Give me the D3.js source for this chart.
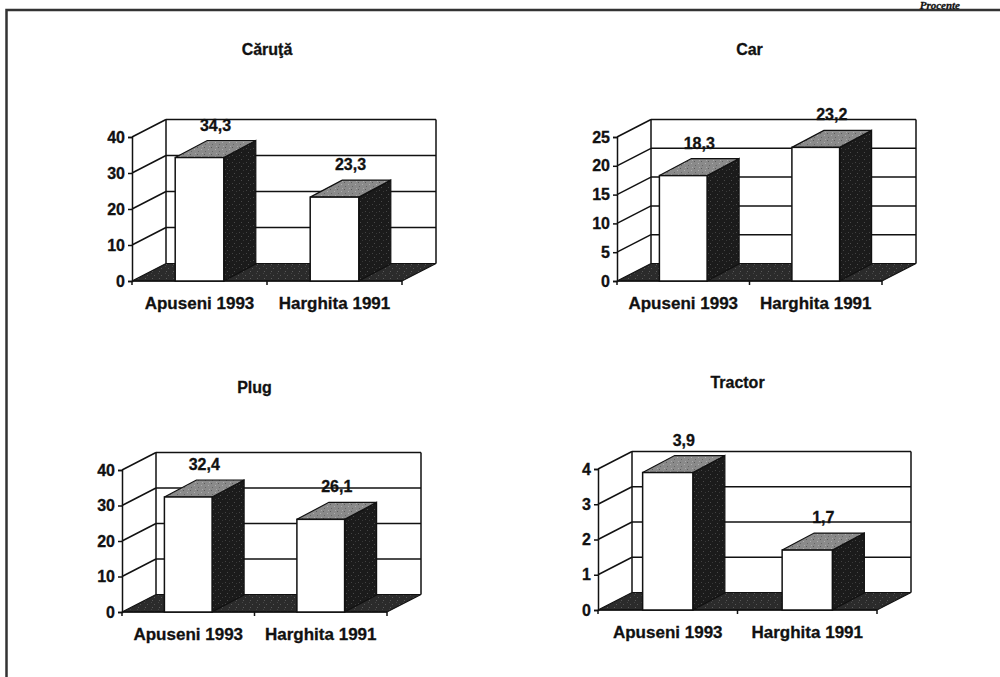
<!DOCTYPE html>
<html>
<head>
<meta charset="utf-8">
<style>
  body { margin: 0; background: #fff; }
  svg text { font-family: "Liberation Sans", Arial, sans-serif; font-weight: bold; fill: #111; stroke: #111; stroke-width: 0.3px; }
</style>
</head>
<body>
<div id="chart"></div>
<script src="https://cdn.jsdelivr.net/npm/d3@7"></script>
<script>
// data
const categories = ["Apuseni 1993", "Harghita 1991"];
const titles = ["Căruţă", "Car", "Plug", "Tractor"];
const caruta = [34.3, 23.3];
const car = [18.3, 23.2];
const plug = [32.4, 26.1];
const tractor = [3.9, 1.7];
const ticksCaruta = [0, 10, 20, 30, 40];
const ticksCar = [0, 5, 10, 15, 20, 25];
const ticksPlug = [0, 10, 20, 30, 40];
const ticksTractor = [0, 1, 2, 3, 4];

// layout of the four panels
const panels = [
  { title: titles[0], values: caruta, ticks: ticksCaruta, x0: 132, x1: 402, y0: 281, yTop: 137, titleY: 55 },
  { title: titles[1], values: car, ticks: ticksCar, x0: 617, x1: 882, y0: 281, yTop: 137, titleY: 55 },
  { title: titles[2], values: plug, ticks: ticksPlug, x0: 122, x1: 387, y0: 612, yTop: 470, titleY: 393 },
  { title: titles[3], values: tractor, ticks: ticksTractor, x0: 598, x1: 877, y0: 610, yTop: 469, titleY: 388 }
];

const W = 1000, H = 677;
const dx = 34, dy = 17.5;     // depth of the floor / walls
const bdx = 32, bdy = 17;     // depth of the bars

const svg = d3.select("#chart").append("svg")
  .attr("width", W).attr("height", H);

// stipple textures like the printed original
const defs = svg.append("defs");
function stipple(id, base, dots) {
  const p = defs.append("pattern").attr("id", id)
    .attr("width", 7).attr("height", 7).attr("patternUnits", "userSpaceOnUse");
  p.append("rect").attr("width", 7).attr("height", 7).attr("fill", base);
  dots.forEach(([x, y, c]) => p.append("rect").attr("x", x).attr("y", y)
    .attr("width", 1).attr("height", 1).attr("fill", c));
}
stipple("dark", "#1b1b1b", [[1, 1, "#444"], [5, 2, "#383838"], [3, 5, "#4a4a4a"]]);
stipple("floor", "#2b2b2b", [[0, 2, "#555"], [4, 0, "#444"], [5, 5, "#5a5a5a"]]);
stipple("top", "#8a8a8a", [[1, 0, "#5c5c5c"], [5, 2, "#b0b0b0"], [2, 4, "#666"], [6, 6, "#aaa"]]);

// frame
svg.append("path")
  .attr("d", `M6.5,${H} V10 H${W}`)
  .attr("fill", "none").attr("stroke", "#333").attr("stroke-width", 2.5);

svg.append("text")
  .attr("x", 960).attr("y", 8.5)
  .attr("text-anchor", "end")
  .style("font-family", "'Liberation Serif', serif")
  .style("font-style", "italic")
  .style("font-size", "11px")
  .text("Procente");

panels.forEach(p => {
  const g = svg.append("g");
  const maxV = p.ticks[p.ticks.length - 1];

  const x = d3.scaleBand().domain(categories).range([p.x0, p.x1])
    .paddingInner(0.64).paddingOuter(0.32);
  const y = d3.scaleLinear().domain([0, maxV]).range([p.y0, p.yTop]);

  const line = (x1, y1, x2, y2) => g.append("line")
    .attr("x1", x1).attr("y1", y1).attr("x2", x2).attr("y2", y2)
    .attr("stroke", "#111").attr("stroke-width", 1.5);

  // back wall and side wall grid
  p.ticks.forEach(t => {
    if (t > 0) {
      line(p.x0, y(t), p.x0 + dx, y(t) - dy);
      line(p.x0 + dx, y(t) - dy, p.x1 + dx, y(t) - dy);
    }
  });
  line(p.x0 + dx, y(0) - dy, p.x0 + dx, y(maxV) - dy);
  line(p.x1 + dx, y(0) - dy, p.x1 + dx, y(maxV) - dy);

  // floor
  g.append("path")
    .attr("d", `M${p.x0},${p.y0} L${p.x1},${p.y0} L${p.x1 + dx},${p.y0 - dy} L${p.x0 + dx},${p.y0 - dy} Z`)
    .attr("fill", "url(#floor)").attr("stroke", "#111").attr("stroke-width", 1.2);

  // y axis
  const yAxis = d3.axisLeft(y).tickValues(p.ticks).tickFormat(d3.format("d"))
    .tickSize(4).tickPadding(3);
  const ya = g.append("g").attr("transform", `translate(${p.x0},0)`).call(yAxis);
  ya.select(".domain").attr("stroke", "#111").attr("stroke-width", 1.5);
  ya.selectAll(".tick line").attr("stroke", "#111").attr("stroke-width", 1.5);
  ya.selectAll(".tick text").style("font-size", "16px")
    .style("font-family", "'Liberation Sans', Arial, sans-serif").style("font-weight", "bold");

  // x axis
  const xa = g.append("g").attr("transform", `translate(0,${p.y0})`);
  xa.append("line").attr("x1", p.x0).attr("x2", p.x1)
    .attr("stroke", "#111").attr("stroke-width", 1.5);
  const xticks = [p.x0, (p.x0 + p.x1) / 2, p.x1];
  xticks.forEach(t => xa.append("line").attr("x1", t).attr("x2", t).attr("y1", 0).attr("y2", 4)
    .attr("stroke", "#111").attr("stroke-width", 1.5));
  xa.selectAll("text.cat").data(categories).join("text")
    .attr("class", "cat")
    .attr("x", d => x(d) + x.bandwidth() / 2)
    .attr("y", 28)
    .attr("text-anchor", "middle")
    .style("font-size", "17px")
    .text(d => d);

  // bars
  const bw = x.bandwidth();
  p.values.forEach((v, i) => {
    const bx = x(categories[i]);
    const top = y(v);
    // side
    g.append("path")
      .attr("d", `M${bx + bw},${p.y0} L${bx + bw + bdx},${p.y0 - bdy} L${bx + bw + bdx},${top - bdy} L${bx + bw},${top} Z`)
      .attr("fill", "url(#dark)").attr("stroke", "#111").attr("stroke-width", 1.2);
    // top
    g.append("path")
      .attr("d", `M${bx},${top} L${bx + bw},${top} L${bx + bw + bdx},${top - bdy} L${bx + bdx},${top - bdy} Z`)
      .attr("fill", "url(#top)").attr("stroke", "#111").attr("stroke-width", 1.2);
    // front
    g.append("rect")
      .attr("x", bx).attr("y", top).attr("width", bw).attr("height", p.y0 - top)
      .attr("fill", "#fff").attr("stroke", "#111").attr("stroke-width", 1.5);
    // value label
    g.append("text")
      .attr("x", bx + bw / 2 + bdx / 2)
      .attr("y", top - bdy - 10)
      .attr("text-anchor", "middle")
      .style("font-size", "16px")
      .text(String(v).replace(".", ","));
  });

  // title
  g.append("text")
    .attr("x", (p.x0 + p.x1) / 2)
    .attr("y", p.titleY)
    .attr("text-anchor", "middle")
    .style("font-size", "16px")
    .text(p.title);
});
</script>
</body>
</html>
